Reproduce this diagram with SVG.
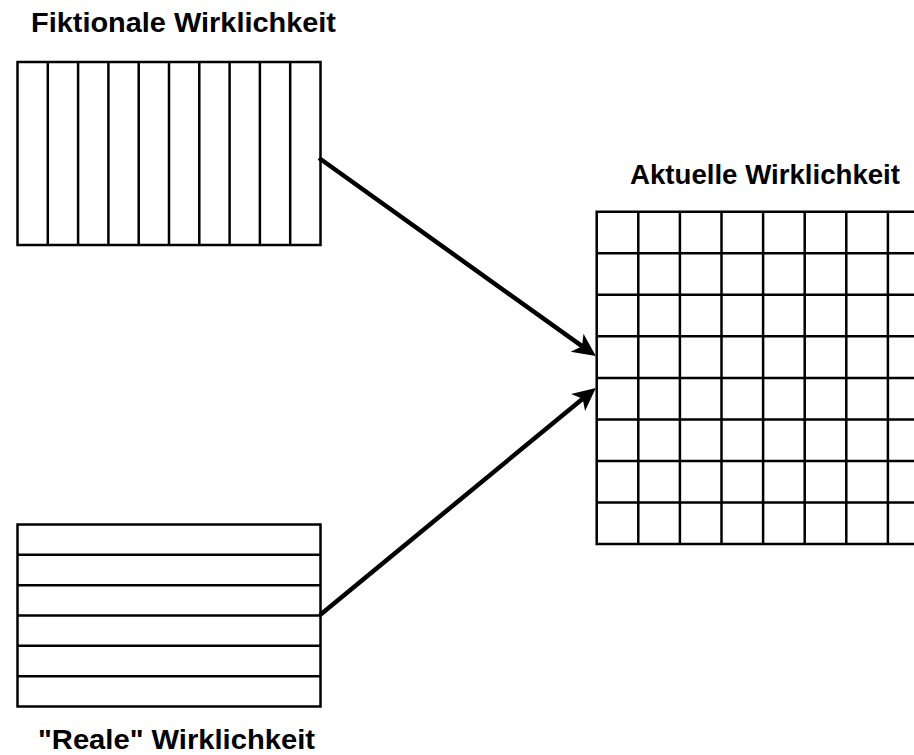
<svg xmlns="http://www.w3.org/2000/svg" width="914" height="755" viewBox="0 0 914 755">
<style>
.lbl{font-family:"Liberation Sans",Arial,sans-serif;font-weight:bold;font-size:28.5px;fill:#000}
.box{fill:#fff;stroke:#000;stroke-width:2.5}
.ln{stroke:#000;stroke-width:2.5;fill:none}
.arr{stroke:#000;stroke-width:4.5;fill:none}
</style>
<defs>
<marker id="ah" markerUnits="userSpaceOnUse" markerWidth="30" markerHeight="30" refX="6" refY="10" orient="auto" viewBox="0 0 30 20" overflow="visible">
<path d="M23,10 L0,-1 L6,10 L0,21 Z" fill="#000"/>
</marker>
</defs>
<rect width="914" height="755" fill="#fff"/>
<g id="fiktionale">
<rect class="box" x="17.5" y="62" width="303" height="183"/>
<path class="ln" d="M47.8,62V245M78.1,62V245M108.4,62V245M138.7,62V245M169,62V245M199.3,62V245M229.6,62V245M259.9,62V245M290.2,62V245"/>
<text class="lbl" x="31" y="31.5" textLength="305" lengthAdjust="spacingAndGlyphs">Fiktionale Wirklichkeit</text>
</g>
<g id="reale">
<rect class="box" x="17.5" y="524.5" width="303" height="182"/>
<path class="ln" d="M17.5,554.8H320.5M17.5,585.2H320.5M17.5,615.5H320.5M17.5,645.8H320.5M17.5,676.2H320.5"/>
<text class="lbl" x="38" y="749" textLength="277" lengthAdjust="spacingAndGlyphs">"Reale" Wirklichkeit</text>
</g>
<g id="aktuelle">
<path class="ln" d="M916,211.7H596.7V544H916"/>
<path class="ln" d="M638.3,211.7V544M679.9,211.7V544M721.5,211.7V544M763.1,211.7V544M804.7,211.7V544M846.3,211.7V544M887.9,211.7V544"/>
<path class="ln" d="M596.7,253.2H916M596.7,294.8H916M596.7,336.3H916M596.7,377.9H916M596.7,419.4H916M596.7,461H916M596.7,502.5H916"/>
<text class="lbl" x="630" y="184" textLength="270" lengthAdjust="spacingAndGlyphs">Aktuelle Wirklichkeit</text>
</g>
<g id="connectors">
<line class="arr" x1="319" y1="158" x2="582" y2="346.2" marker-end="url(#ah)"/>
<line class="arr" x1="320" y1="615" x2="582.7" y2="398.7" marker-end="url(#ah)"/>
</g>
</svg>
